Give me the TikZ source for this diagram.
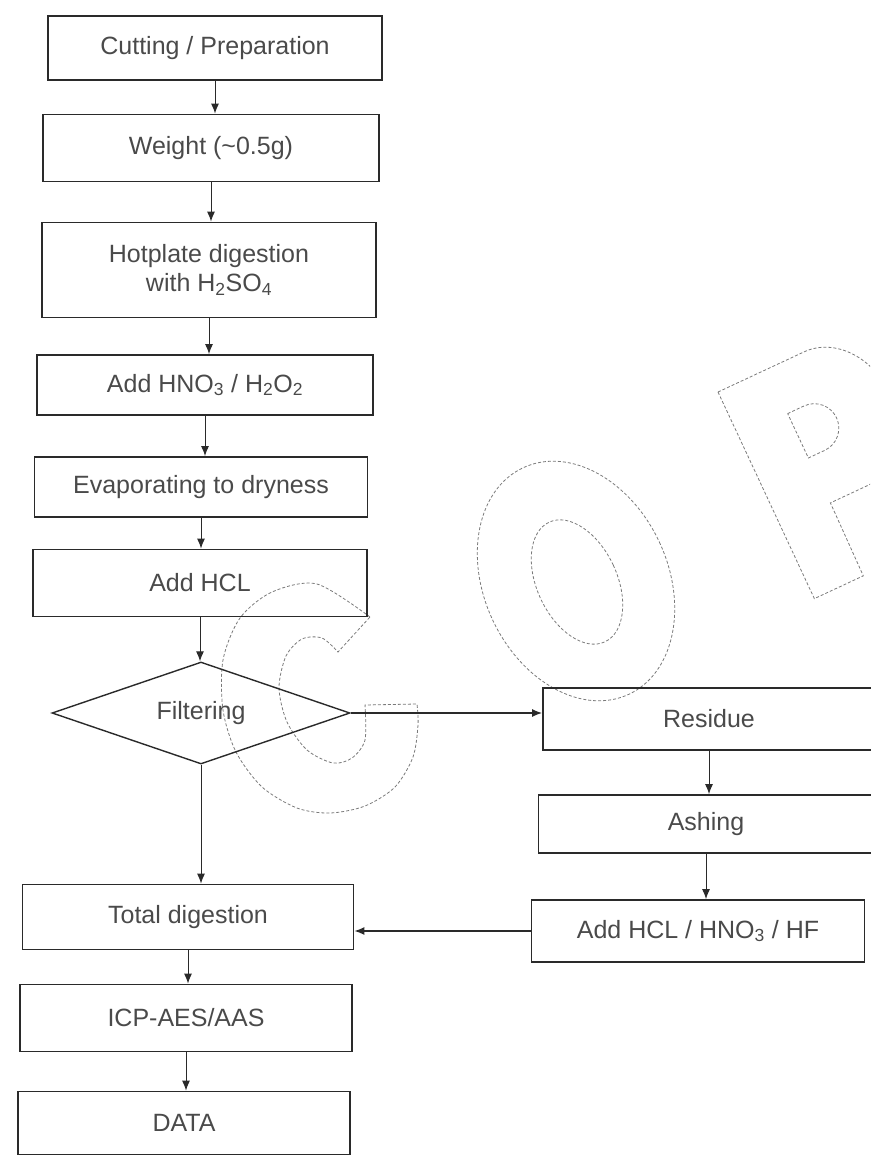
\documentclass[tikz,border=0pt]{standalone}
\usepackage{fontspec}
\setmainfont{Liberation Sans}
\usetikzlibrary{shapes.geometric,arrows.meta}

\begin{document}
\begin{tikzpicture}[x=1pt, y=-1pt,
  box/.style={draw=linie, line width=1.8pt, minimum width=334pt, minimum height=64pt,
    inner sep=0pt, text=schrift, font=\fontsize{25}{29}\selectfont, align=center},
  raute/.style={box, shape=diamond, aspect=2.9, minimum width=298pt, minimum height=102pt, line width=1.4pt},
  pfeil/.style={draw=linie, line width=1pt, -{Latex[length=10pt,width=8pt]}},
  wmark/.style={draw=wasserz, line width=0.8pt, dash pattern=on 3pt off 2pt}]

  % --- Farben ---
  \definecolor{linie}{HTML}{2A2A2A}   % Rahmen und Pfeile
  \definecolor{schrift}{HTML}{4A4A4A} % Beschriftung
  \definecolor{wasserz}{HTML}{7A7A7A} % Wasserzeichen

  \useasboundingbox (0,0) rectangle (870,1156);

  % --- Wasserzeichen "COP" ---
  \begin{scope}
    \clip (0,0) rectangle (870,1156);
    % C
    \draw[wmark] plot[smooth] coordinates {(370,617) (317,584) (272,592) (240,618) (223,660)
        (223,710) (236,752) (262,787) (297,808) (330,813) (365,806) (395,787) (413,757)
        (418,725) (417,704)}
      -- plot[smooth] coordinates {(365,705) (365,740) (352,758) (333,763) (307,750)
        (287,722) (279,688) (286,656) (302,639) (322,638) (338,652)} -- cycle;
    % O
    \draw[wmark, rotate around={25:(576,581)}] (576,581) ellipse [x radius=92, y radius=125];
    \draw[wmark, rotate around={25:(577,582)}] (577,582) ellipse [x radius=40, y radius=66];
    % P
    \begin{scope}[shift={(718,392)}, rotate=25]
      \draw[wmark] (0,0) -- (95,0) arc[start angle=-90, end angle=90, x radius=60, y radius=74]
        -- (55,148) -- (54,228) -- (0,228) -- cycle;
      \draw[wmark] (54,49) -- (72,49) arc[start angle=-90, end angle=90, radius=24.5]
        -- (54,98) -- cycle;
    \end{scope}
  \end{scope}

  % --- Linke Spalte ---
  \node[box] (cut) at (215,48) {Cutting / Preparation};
  \node[box, minimum width=336pt, minimum height=67pt] (weight) at (211,148) {Weight (\textasciitilde0.5g)};
  \node[box, minimum height=95pt] (hotplate) at (209,270) {Hotplate digestion\\with H\textsubscript{2}SO\textsubscript{4}};
  \node[box, minimum width=336pt, minimum height=60pt] (hno) at (205,385) {Add HNO\textsubscript{3} / H\textsubscript{2}O\textsubscript{2}};
  \node[box, minimum width=333pt, minimum height=60pt] (evap) at (201,487) {Evaporating to dryness};
  \node[box, minimum height=67pt] (hcl) at (200,583) {Add HCL};
  \node[raute] (filt) at (201,713) {Filtering};
  \node[box, minimum width=331pt, minimum height=65pt] (total) at (188,917) {Total digestion};
  \node[box, minimum width=332pt, minimum height=67pt] (icp) at (186,1018) {ICP-AES/AAS};
  \node[box, minimum width=332pt, minimum height=63pt] (data) at (184,1123) {DATA};

  % --- Rechte Spalte ---
  \node[box, minimum width=332pt, minimum height=62pt] (residue) at (709,719) {Residue};
  \node[box, minimum width=335pt, minimum height=58pt] (ashing) at (706,824) {Ashing};
  \node[box, minimum width=333pt, minimum height=62pt] (hf) at (698,931) {Add HCL / HNO\textsubscript{3} / HF};

  % --- Pfeile ---
  \draw[pfeil] (cut.south) -- (cut.south |- weight.north);
  \draw[pfeil] (weight.south) -- (weight.south |- hotplate.north);
  \draw[pfeil] (hotplate.south) -- (hotplate.south |- hno.north);
  \draw[pfeil] (hno.south) -- (hno.south |- evap.north);
  \draw[pfeil] (evap.south) -- (evap.south |- hcl.north);
  \draw[pfeil] (hcl.south) -- (hcl.south |- filt.north);
  \draw[pfeil] (filt.south) -- (filt.south |- total.north);
  \draw[pfeil] (total.south) -- (total.south |- icp.north);
  \draw[pfeil] (icp.south) -- (icp.south |- data.north);
  \draw[pfeil, line width=1.4pt] (filt.east) -- (filt.east -| residue.west);
  \draw[pfeil] (residue.south) -- (residue.south |- ashing.north);
  \draw[pfeil] (ashing.south) -- (ashing.south |- hf.north);
  \draw[pfeil, line width=1.4pt] (hf.west) -- (hf.west -| total.east);

\end{tikzpicture}
\end{document}
